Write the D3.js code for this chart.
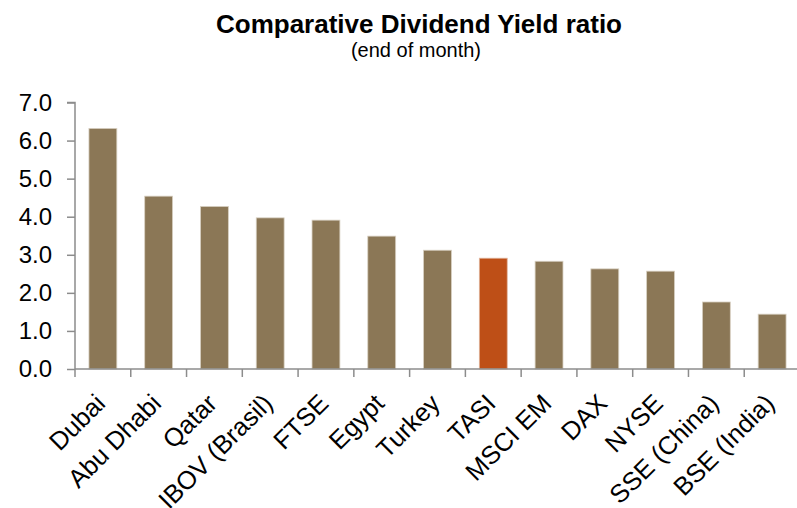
<!DOCTYPE html>
<html><head><meta charset="utf-8">
<script src="https://cdn.jsdelivr.net/npm/d3@7"></script>
<style>body{margin:0;background:#fff;} svg{display:block;font-family:"Liberation Sans",Arial,sans-serif;}</style>
</head><body><svg id="c" width="797" height="508"></svg>
<script>
const categories = ["Dubai","Abu Dhabi","Qatar","IBOV (Brasil)","FTSE","Egypt","Turkey","TASI","MSCI EM","DAX","NYSE","SSE (China)","BSE (India)"];
const values = [6.32,4.54,4.27,3.97,3.91,3.49,3.12,2.91,2.83,2.63,2.57,1.76,1.44];
const highlight = ["TASI"];
const yTicks = [0,1,2,3,4,5,6,7];
const title = "Comparative Dividend Yield ratio";
const subtitle = "(end of month)";

const svg = d3.select("#c");
const x0 = 75, x1 = 800, yTop = 102.5, yBot = 369;
const x = d3.scaleBand().domain(categories).range([x0, x1]).paddingInner(0.5).paddingOuter(0.25);
const y = d3.scaleLinear().domain([0,7]).range([yBot, yTop]);

svg.append("text").attr("x",419).attr("y",33).attr("text-anchor","middle")
  .attr("font-weight","bold").attr("font-size",26).text(title);
svg.append("text").attr("x",416).attr("y",57).attr("text-anchor","middle")
  .attr("font-size",20).text(subtitle);

// bars
svg.append("g").selectAll("rect").data(categories).join("rect")
  .attr("x", d=>x(d)).attr("width", x.bandwidth())
  .attr("y", (d,i)=>y(values[i])).attr("height",(d,i)=>yBot-y(values[i]))
  .attr("fill", d=> highlight.includes(d) ? "#be4f17" : "#8b7756")
  .attr("stroke", d=> highlight.includes(d) ? "#e0b49c" : "#d8d0c2").attr("stroke-width",0.8);

// y axis
const yAxis = d3.axisLeft(y).tickValues(yTicks).tickFormat(d3.format(".1f")).tickSize(8).tickPadding(15);
const gy = svg.append("g").attr("transform",`translate(${x0},0)`).call(yAxis);
gy.select(".domain").attr("stroke","#8c8c8c").attr("stroke-width",1.5).attr("d",`M-8,${yTop}H0V${yBot}`);
gy.selectAll(".tick line").attr("stroke","#8c8c8c").attr("stroke-width",1.5);
gy.selectAll(".tick text").attr("font-size",24).attr("fill","#000").attr("font-family","Liberation Sans, Arial, sans-serif");

// x axis line + boundary ticks
const gx = svg.append("g");
gx.append("line").attr("x1",x0).attr("x2",x1).attr("y1",yBot).attr("y2",yBot).attr("stroke","#8c8c8c").attr("stroke-width",1.5);
const bounds = d3.range(categories.length+1).map(i=>x0 + i*(x1-x0)/categories.length);
gx.selectAll("line.tk").data(bounds).join("line").attr("class","tk")
  .attr("x1",d=>d).attr("x2",d=>d).attr("y1",yBot).attr("y2",yBot+8)
  .attr("stroke","#8c8c8c").attr("stroke-width",1.5);
gx.selectAll("text").data(categories).join("text")
  .attr("transform", d=>`translate(${x(d)+x.bandwidth()/2+4},${yBot+36}) rotate(-45)`)
  .attr("text-anchor","end").attr("font-size",25.5).attr("fill","#000").text(d=>d);
</script></body></html>
